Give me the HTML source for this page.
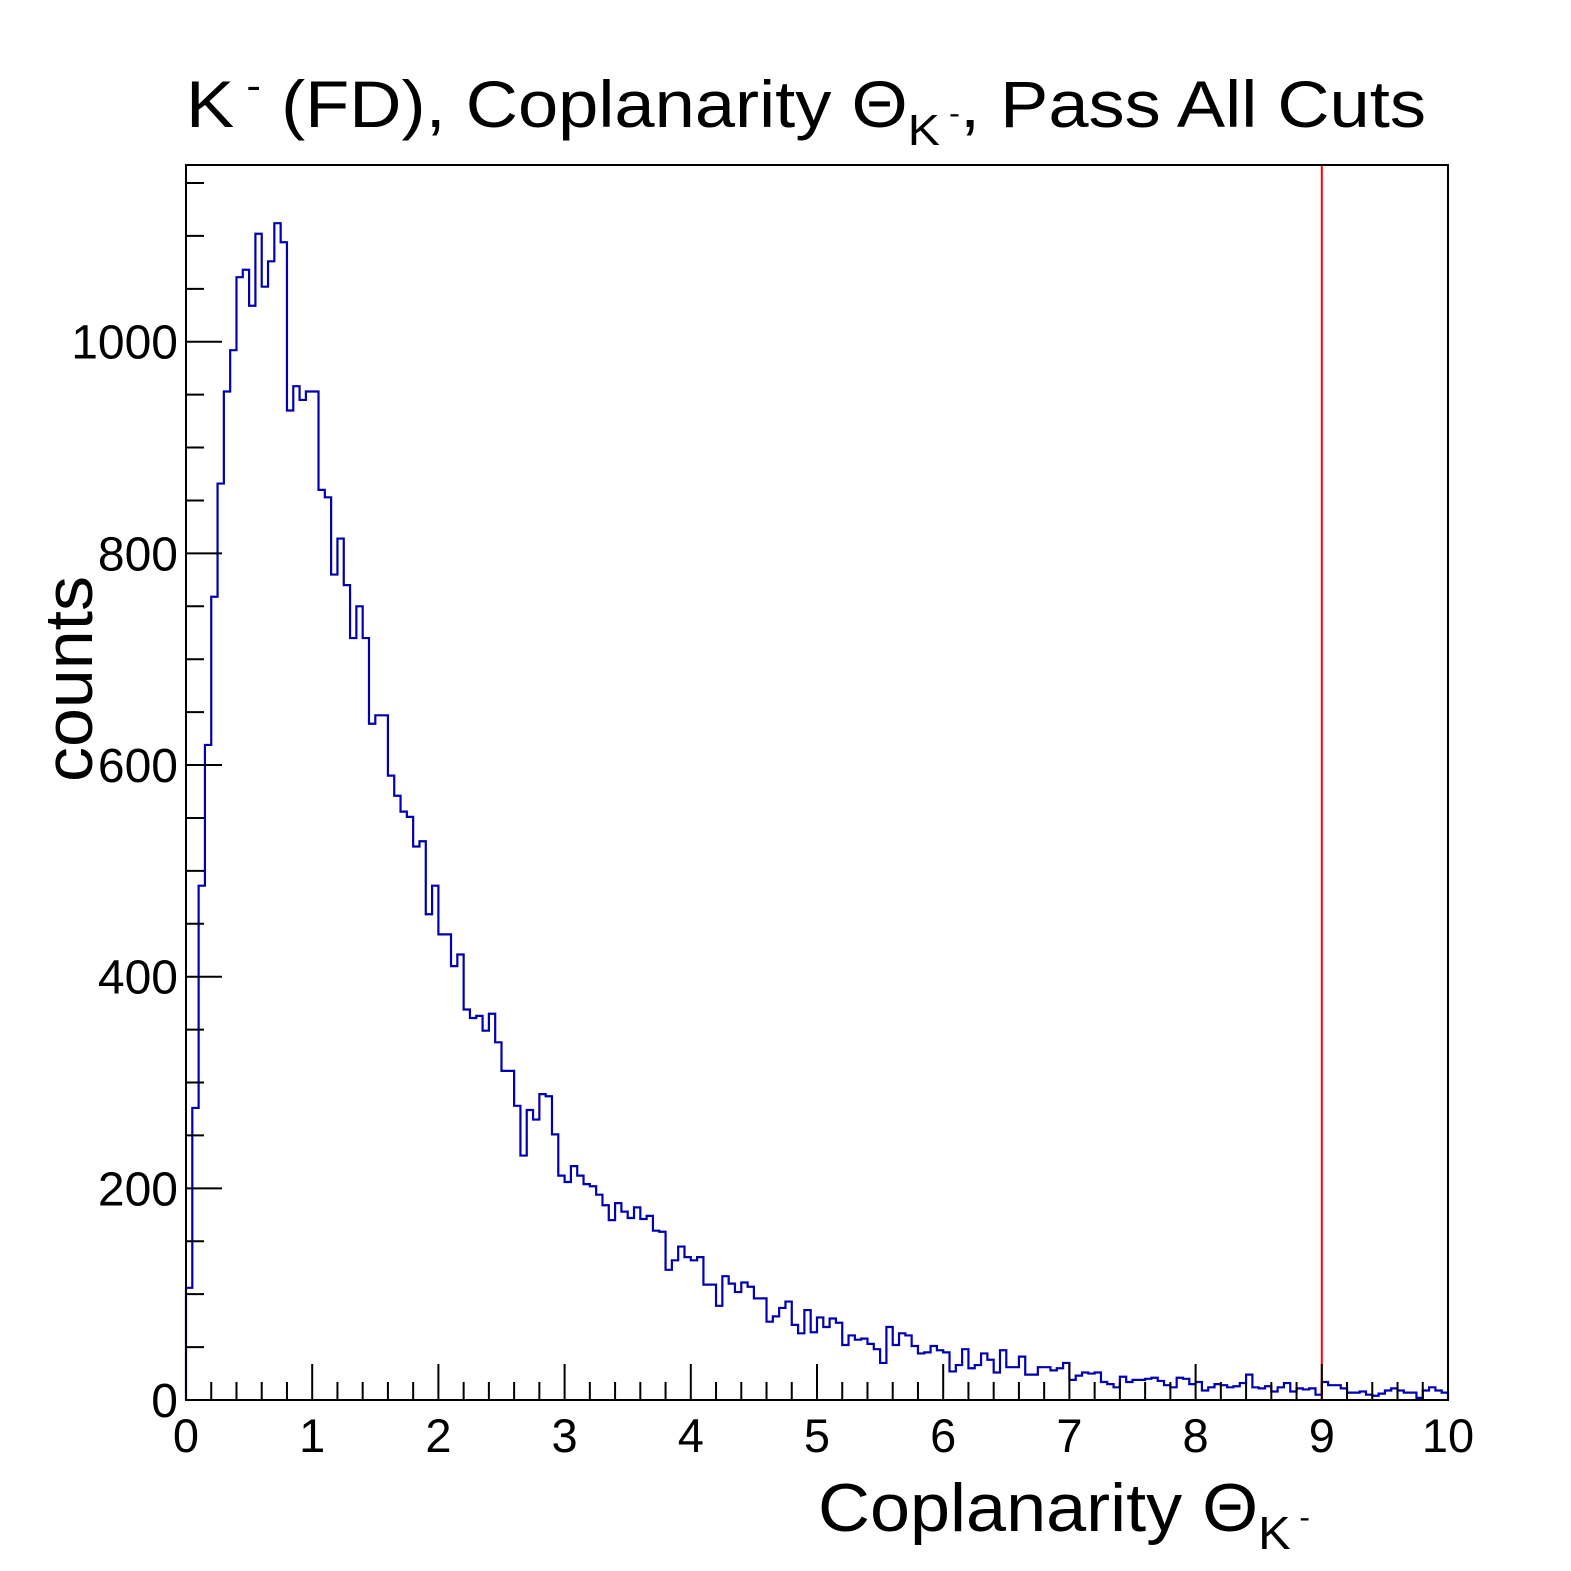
<!DOCTYPE html>
<html><head><meta charset="utf-8"><style>
html,body{margin:0;padding:0;background:#fff;}
svg{display:block;font-family:"Liberation Sans",Arial,sans-serif;}
</style></head><body>
<svg id="chart" width="1571" height="1571" viewBox="0 0 1571 1571" xmlns="http://www.w3.org/2000/svg">
<rect x="0" y="0" width="1571" height="1571" fill="#fff"/>
<text x="186" y="127" font-size="66" textLength="1240" lengthAdjust="spacingAndGlyphs">K<tspan font-size="40" dy="-28"> -</tspan><tspan dy="28"> (FD), Coplanarity Θ</tspan><tspan font-size="44" dy="18">K</tspan><tspan font-size="30" dy="-22"> -</tspan><tspan dy="4">, Pass All Cuts</tspan></text>
<g id="plot"></g>
<text transform="translate(92,782) rotate(-90)" font-size="68" textLength="206" lengthAdjust="spacingAndGlyphs">counts</text>
<text x="818" y="1531" font-size="68" textLength="492" lengthAdjust="spacingAndGlyphs">Coplanarity Θ<tspan font-size="46" dy="18">K</tspan><tspan font-size="30" dy="-22"> -</tspan></text>
</svg>
<script>
const binCounts = [106,276,486,619,759,866,953,992,1061,1068,
1034,1102,1052,1076,1112,1094,935,958,945,953,
953,860,853,780,814,770,720,750,720,639,
647,647,590,571,556,551,523,528,459,486,
440,440,410,421,369,361,363,349,365,338,
311,311,278,231,274,265,289,287,251,212,
206,221,212,204,202,194,184,170,186,178,
172,182,171,174,160,159,123,132,145,135,
132,135,109,109,
89,117,110,102,111,107,96,96,74,79,
87,93,71,63,85,64,78,69,77,73,
52,61,57,58,53,48,35,69,52,63,
61,51,44,45,51,47,45,27,33,48,
30,33,44,38,26,47,31,31,41,24,
24,31,31,28,30,35,19,23,26,25,
26,17,15,12,22,17,19,19,20,21,
18,14,12,21,20,15,17,9,12,15,
14,12,13,16,24,12,11,13,8,12,
16,8,11,10,11,5,
17,14,14,11,7,7,8,5,4,6,9,11,9,7,7,2,9,12,9,7];
const xRange = [0,10];
const yRange = [0,1167];
const xTickLabels = ["0","1","2","3","4","5","6","7","8","9","10"];
const yTickValues = [0,200,400,600,800,1000];
const yTickLabels = ["0","200","400","600","800","1000"];
const cutValue = [9];

const L=186,R=1448,T=165,B=1400;
const sx=v=>L+(v-xRange[0])/(xRange[1]-xRange[0])*(R-L);
const sy=v=>B-(v-yRange[0])/(yRange[1]-yRange[0])*(B-T);
const NS="http://www.w3.org/2000/svg";
const g=document.getElementById('plot');
function mk(tag,attrs){const e=document.createElementNS(NS,tag);for(const k in attrs)e.setAttribute(k,attrs[k]);g.appendChild(e);return e;}

const n=binCounts.length, w=(xRange[1]-xRange[0])/n;
let d="M"+sx(0)+","+sy(0);
binCounts.forEach((c,i)=>{d+=" L"+sx(i*w)+","+sy(c)+" L"+sx((i+1)*w)+","+sy(c);});
d+=" L"+sx(xRange[1])+","+sy(0);
const hist=mk('path',{d:d,fill:"none",stroke:"#0000b0","stroke-width":2.2});



const cut=mk('line',{x1:sx(cutValue[0]),x2:sx(cutValue[0]),y1:T,y2:B,stroke:"#ff0000","stroke-width":2});



const fr=mk('rect',{x:L,y:T,width:R-L,height:B-T,fill:"none",stroke:"#000","stroke-width":2});



for(let k=0;k<=50;k++){
  const v=k*0.2, len=(k%5===0)?36:18;
  const t=mk('line',{x1:sx(v),x2:sx(v),y1:B,y2:B-len,stroke:"#000","stroke-width":2});
  
  
}
xTickLabels.forEach((s,i)=>{
  const t=mk('text',{x:sx(i),y:1452,"font-size":47,"text-anchor":"middle"});
  t.textContent=s;
  
  
});
for(let v=0;v<=1150;v+=50){
  const len=(v%200===0)?36:18;
  const t=mk('line',{x1:L,x2:L+len,y1:sy(v),y2:sy(v),stroke:"#000","stroke-width":2});
  
  
}
yTickValues.forEach((v,i)=>{
  const t=mk('text',{x:178,y:sy(v)+17,"font-size":48,"text-anchor":"end"});
  t.textContent=yTickLabels[i];
  
  
});
</script>
</body></html>
